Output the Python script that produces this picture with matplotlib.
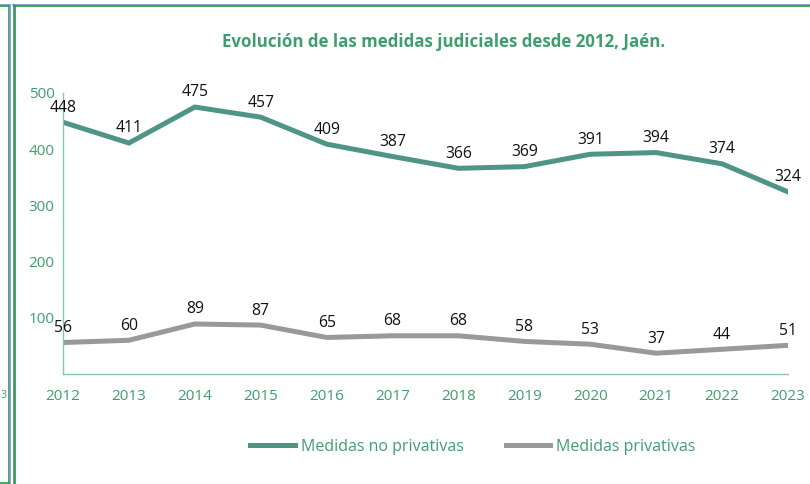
import matplotlib.pyplot as plt
from matplotlib.lines import Line2D

plt.rcParams['font.family'] = ['Open Sans', 'DejaVu Sans']

# data
years = [2012, 2013, 2014, 2015, 2016, 2017, 2018, 2019, 2020, 2021, 2022, 2023]
no_privativas = [448, 411, 475, 457, 409, 387, 366, 369, 391, 394, 374, 324]
privativas = [56, 60, 89, 87, 65, 68, 68, 58, 53, 37, 44, 51]

green_txt = '#3f9e6e'
teal = '#4e9585'
grey = '#999999'

fig = plt.figure(figsize=(8.1, 4.84), dpi=100)
ax = fig.add_axes([63/810, 1-374/484, (788-63)/810, (374-93)/484])

ax.plot(years, no_privativas, color=teal, lw=3.6, solid_joinstyle='miter',
        label='Medidas no privativas')
ax.plot(years, privativas, color=grey, lw=3.6, solid_joinstyle='miter',
        label='Medidas privativas')

for x, y in zip(years, no_privativas):
    ax.annotate(str(y), (x, y), xytext=(0, 10.5), textcoords='offset points',
                ha='center', va='center', fontsize=11.3, color='#111111')
for x, y in zip(years, privativas):
    ax.annotate(str(y), (x, y), xytext=(0, 10.5), textcoords='offset points',
                ha='center', va='center', fontsize=11.3, color='#111111')

ax.set_xlim(2012, 2023)
ax.set_ylim(0, 500)
ax.set_xticks(years)
ax.set_yticks([100, 200, 300, 400, 500])
ax.tick_params(axis='both', length=0, labelsize=11, labelcolor=green_txt)
ax.tick_params(axis='x', pad=11)
ax.tick_params(axis='y', pad=6)
for s in ['top', 'right']:
    ax.spines[s].set_visible(False)
for s in ['left', 'bottom']:
    ax.spines[s].set_color('#86c9a2')
    ax.spines[s].set_linewidth(1.0)

fig.text(444/810, 1-42/484, 'Evolución de las medidas judiciales desde 2012, Jaén.',
         ha='center', va='center', fontsize=12.2, fontweight='bold', color=green_txt)

leg = fig.legend(loc='center', bbox_to_anchor=(473/810, 1-447/484), ncol=2,
                 frameon=False, fontsize=11.5, handlelength=2.8, handletextpad=0.38,
                 columnspacing=2.6)
for t in leg.get_texts():
    t.set_color(green_txt)

# page borders around the chart
def vline(x, y0, y1, c, w=1.2):
    fig.add_artist(Line2D([x/810, x/810], [1-y0/484, 1-y1/484], color=c, lw=w))

def hline(y, x0, x1, c, w=1.2):
    fig.add_artist(Line2D([x0/810, x1/810], [1-y/484, 1-y/484], color=c, lw=w))

hline(4.5, 0, 10, '#7f93c4')
hline(5.8, 0, 9, '#1f9e45')
vline(8.5, 5.8, 484, '#1f9e45')
vline(10, 4.5, 484, '#7f93c4')
hline(483, 0, 8.5, '#1f9e45')
hline(4.5, 13, 810, '#7f93c4')
hline(5.8, 14.5, 810, '#1f9e45')
vline(13.5, 4.5, 484, '#5b74b5')
vline(15, 5.8, 484, '#1f9e45')
fig.text(0.3/810, 1-395/484, '3', ha='left', va='center', fontsize=7.5, color=green_txt)

fig.savefig('out.png', dpi=100)
